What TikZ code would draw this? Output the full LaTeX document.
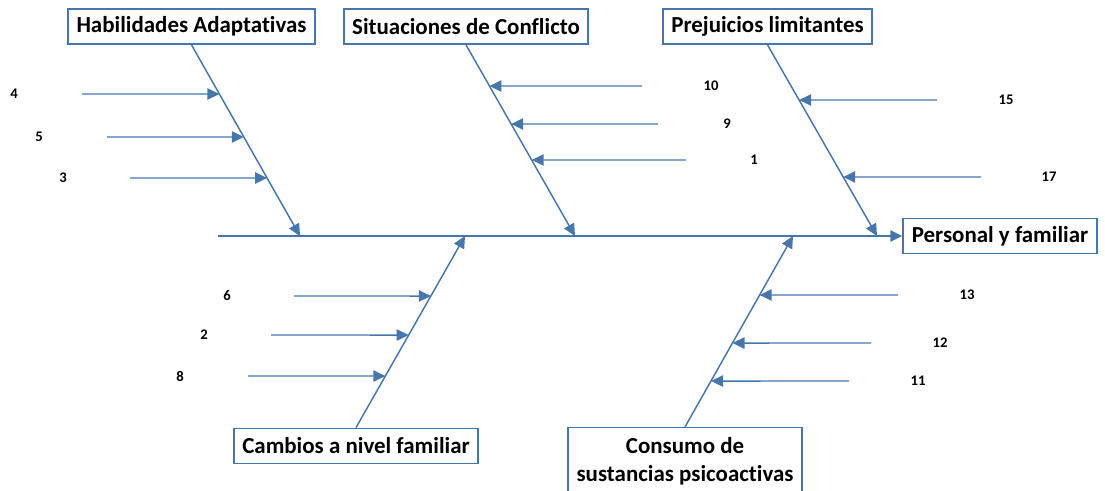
\documentclass[tikz,border=0pt]{standalone}
\usepackage{fontspec}
\setmainfont{Carlito}[Ligatures=NoCommon]
\usetikzlibrary{arrows.meta}
\definecolor{fishblue}{HTML}{4676AC}

\begin{document}
\begin{tikzpicture}[
        x=0.75pt, y=-0.75pt,
        cause/.style={
            rectangle,
            draw=fishblue,
            line width=1.1pt,
            fill=white,
            align=center,
            font=\fontsize{17.2}{21}\selectfont\bfseries,
            inner xsep=4pt,
            minimum height=26.5pt
        },
        num/.style={font=\fontsize{11}{13}\selectfont\bfseries, inner sep=0pt},
        arr/.style={-{Triangle[length=9pt, width=8.5pt]}, line width=1.1pt, draw=fishblue}
    ]
        \useasboundingbox (0,0) rectangle (1105,491);

        % effect and spine
        \node[cause, minimum width=145.5pt] (effect) at (1000,236) {Personal y familiar};
        \coordinate (tail) at (218,236);
        \draw[arr] (tail) -- (effect.west);

        % causes
        \node[cause, minimum width=185.25pt] (hab) at (191.5,26.5) {Habilidades Adaptativas};
        \node[cause, minimum width=183pt] (sit) at (466,26.5) {Situaciones de Conflicto};
        \node[cause, minimum width=156.75pt] (pre) at (767.5,26.5) {Prejuicios limitantes};
        \node[cause, minimum width=183pt] (cam) at (356,446) {Cambios a nivel familiar};
        \node[cause, minimum width=175.5pt, minimum height=50pt] (con) at (685,461)
            {Consumo de\\sustancias psicoactivas};

        \coordinate (habend) at (300,236);
        \coordinate (sitend) at (575,236);
        \coordinate (preend) at (877,236);
        \coordinate (camend) at (465,236);
        \coordinate (conend) at (793,236);

        \draw[arr] (hab.south) -- (habend);
        \draw[arr] (sit.south) -- (sitend);
        \draw[arr] (pre.south) -- (preend);
        \draw[arr] (cam.north) -- (camend);
        \draw[arr] (con.north) -- (conend);

        % sub-causes: label / tail x / y
        \foreach \n/\lx/\tx/\y in {4/14/82/94, 5/39/107/137, 3/63/130/178} {
            \node[num] (n\n) at (\lx,\y) {\n};
            \coordinate (t\n) at (\tx,\y);
            \draw[arr] (t\n) -- (intersection of hab.south--habend and t\n--n\n);
        }
        \foreach \n/\lx/\tx/\y in {10/711/642/86, 9/727/658/124, 1/754/686/160} {
            \node[num] (n\n) at (\lx,\y) {\n};
            \coordinate (t\n) at (\tx,\y);
            \draw[arr] (t\n) -- (intersection of sit.south--sitend and t\n--n\n);
        }
        \foreach \n/\lx/\tx/\y in {15/1006/937/100, 17/1049/981/177} {
            \node[num] (n\n) at (\lx,\y) {\n};
            \coordinate (t\n) at (\tx,\y);
            \draw[arr] (t\n) -- (intersection of pre.south--preend and t\n--n\n);
        }
        \foreach \n/\lx/\tx/\y in {6/227/294/296, 2/204/271/335, 8/180/248/376} {
            \node[num] (n\n) at (\lx,\y) {\n};
            \coordinate (t\n) at (\tx,\y);
            \draw[arr] (t\n) -- (intersection of cam.north--camend and t\n--n\n);
        }
        \foreach \n/\lx/\tx/\y in {13/967/898/295, 12/940/871/343, 11/918/849/381} {
            \node[num] (n\n) at (\lx,\y) {\n};
            \coordinate (t\n) at (\tx,\y);
            \draw[arr] (t\n) -- (intersection of con.north--conend and t\n--n\n);
        }
    \end{tikzpicture}
\end{document}
